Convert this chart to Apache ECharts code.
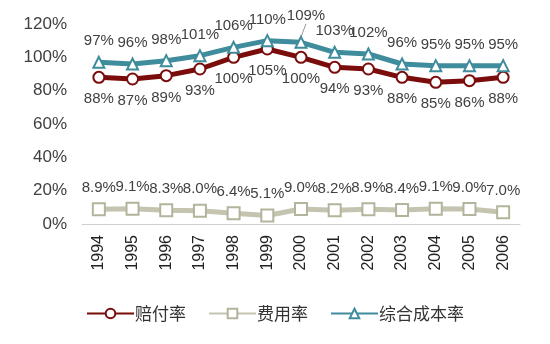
<!DOCTYPE html>
<html><head><meta charset="utf-8">
<script src="https://cdn.jsdelivr.net/npm/echarts@6/dist/echarts.min.js"></script>
<style>html,body{margin:0;padding:0;background:#fff}#c{width:550px;height:344px}</style>
</head><body><div id="c"></div>
<script>
const categories = ['1994','1995','1996','1997','1998','1999','2000','2001','2002','2003','2004','2005','2006'];
const lossRatio = [88,87,89,93,100,105,100,94,93,88,85,86,88];
const expenseRatio = [8.9,9.1,8.3,8.0,6.4,5.1,9.0,8.2,8.9,8.4,9.1,9.0,7.0];
const combinedRatio = [97,96,98,101,106,110,109,103,102,96,95,95,95];
const yTicks = [0,20,40,60,80,100,120];

const font = '"Liberation Sans", Arial, sans-serif';
const lblStyle = {fontSize: 15, color: '#404040', fontFamily: font};
const combinedData = combinedRatio.map((v, i) => i === 6
  ? {value: v, labelLine: {show: true, lineStyle: {color: '#999', width: 1}}}
  : v);
const chart = echarts.init(document.getElementById('c'));
chart.setOption({
  animation: false,
  grid: {left: 82, right: 30, top: 24, bottom: 120},
  legend: {
    top: 300, left: 'center', itemWidth: 47, itemHeight: 12, itemGap: 22,
    textStyle: {fontSize: 17, color: '#333', fontFamily: '"Noto Sans CJK SC", sans-serif', padding: [0,0,0,-4]},
    data: ['赔付率','费用率','综合成本率']
  },
  xAxis: {
    type: 'category', data: categories, boundaryGap: true,
    axisLine: {lineStyle: {color: '#d0d0d0', width: 1}},
    axisTick: {show: false},
    axisLabel: {rotate: 90, fontSize: 16, color: '#222', fontFamily: font, margin: 11}
  },
  yAxis: {
    type: 'value', min: 0, max: 120, interval: 20,
    axisLine: {show: false}, axisTick: {show: false}, splitLine: {show: false},
    axisLabel: {formatter: v => yTicks.includes(v) ? v + '%' : '', fontSize: 17, color: '#404040', fontFamily: font, margin: 15}
  },
  series: [
    {
      name: '赔付率', type: 'line', data: lossRatio,
      symbol: 'circle', symbolSize: 11,
      lineStyle: {color: '#7a0c0c', width: 5},
      itemStyle: {color: '#fff', borderColor: '#7a0c0c', borderWidth: 2},
      label: {show: true, position: 'bottom', distance: 8, formatter: p => p.value + '%', ...lblStyle}
    },
    {
      name: '费用率', type: 'line', data: expenseRatio,
      symbol: 'rect', symbolSize: 12,
      lineStyle: {color: '#c4c4b0', width: 5},
      itemStyle: {color: '#fff', borderColor: '#b4b49c', borderWidth: 2},
      label: {show: true, position: 'top', distance: 7, formatter: p => p.value.toFixed(1) + '%', ...lblStyle}
    },
    {
      name: '综合成本率', type: 'line', data: combinedData,
      symbol: 'triangle', symbolSize: 11,
      lineStyle: {color: '#3f8c9c', width: 5},
      itemStyle: {color: '#fff', borderColor: '#3f8c9c', borderWidth: 2},
      label: {show: true, position: 'top', distance: 7, formatter: p => p.value + '%', ...lblStyle},
      labelLayout: p => p.dataIndex === 6 ? {dx: 5, dy: -5} : {}
    }
  ]
});
</script></body></html>
